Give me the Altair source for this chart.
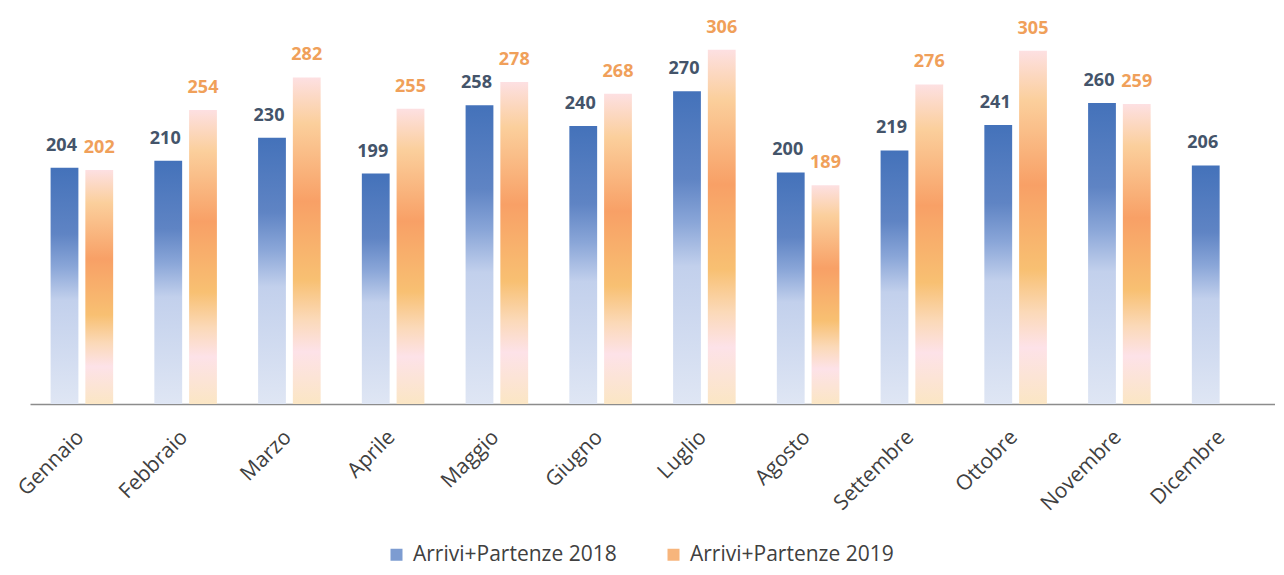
import altair as alt
import pandas as pd

months = ["Gennaio", "Febbraio", "Marzo", "Aprile", "Maggio", "Giugno",
          "Luglio", "Agosto", "Settembre", "Ottobre", "Novembre", "Dicembre"]
values_2018 = [204, 210, 230, 199, 258, 240, 270, 200, 219, 241, 260, 206]
values_2019 = [202, 254, 282, 255, 278, 268, 306, 189, 276, 305, 259]
series_names = ["Arrivi+Partenze 2018", "Arrivi+Partenze 2019"]

rows = []
for m, v in zip(months, values_2018):
    rows.append({"mese": m, "serie": series_names[0], "valore": v})
for m, v in zip(months, values_2019):
    rows.append({"mese": m, "serie": series_names[1], "valore": v})
df = pd.DataFrame(rows)

blue_grad = alt.Gradient(
    gradient="linear", x1=0, y1=0, x2=0, y2=1,
    stops=[
        alt.GradientStop(offset=0.0, color="#4472ba"),
        alt.GradientStop(offset=0.28, color="#5f84c4"),
        alt.GradientStop(offset=0.42, color="#8aa6d8"),
        alt.GradientStop(offset=0.56, color="#c2d0ec"),
        alt.GradientStop(offset=1.0, color="#dfe6f4"),
    ],
)
orange_grad = alt.Gradient(
    gradient="linear", x1=0, y1=0, x2=0, y2=1,
    stops=[
        alt.GradientStop(offset=0.0, color="#fde0e2"),
        alt.GradientStop(offset=0.14, color="#fbcf9c"),
        alt.GradientStop(offset=0.38, color="#f8a066"),
        alt.GradientStop(offset=0.62, color="#f8c072"),
        alt.GradientStop(offset=0.74, color="#fbd9b8"),
        alt.GradientStop(offset=0.84, color="#fde2e8"),
        alt.GradientStop(offset=1.0, color="#fbe6c4"),
    ],
)

x_enc = alt.X(
    "mese:N", sort=months, title=None,
    scale=alt.Scale(paddingInner=0.33, paddingOuter=0.165),
    axis=alt.Axis(labelAngle=-45, labelFontSize=21, labelColor="#404040",
                  labelFont="Open Sans", domainColor="#8c8c8c", domainWidth=1.5,
                  ticks=False, labelPadding=22, labelOffset=-9),
)
xoff_enc = alt.XOffset("serie:N", sort=series_names,
                       scale=alt.Scale(domain=series_names, paddingInner=0.2, paddingOuter=0.1))
y_enc = alt.Y("valore:Q", title=None,
              scale=alt.Scale(domain=[0, 342], nice=False, zero=True),
              axis=None)

base = alt.Chart(df)

legend_layer = base.mark_bar(opacity=0).encode(
    x=x_enc, xOffset=xoff_enc, y=y_enc,
    color=alt.Color("serie:N", sort=series_names,
                    scale=alt.Scale(domain=series_names, range=["#7d9cd1", "#f7b57c"]),
                    legend=alt.Legend(orient="none", legendX=356, legendY=536,
                                      direction="horizontal", title=None, symbolType="square",
                                      symbolSize=144, symbolOpacity=1, labelFontSize=21,
                                      labelFont="Open Sans", labelColor="#404040", padding=0,
                                      labelOffset=6, labelLimit=0, columnPadding=46,
                                      symbolStrokeWidth=0)),
)

bars18 = base.transform_filter(alt.datum.serie == series_names[0]).mark_bar(fill=blue_grad).encode(
    x=x_enc, xOffset=xoff_enc, y=y_enc)
bars19 = base.transform_filter(alt.datum.serie == series_names[1]).mark_bar(fill=orange_grad).encode(
    x=x_enc, xOffset=xoff_enc, y=y_enc)

text18 = base.transform_filter(alt.datum.serie == series_names[0]).mark_text(
    font="Open Sans", fontSize=18, fontWeight="bold", color="#44546a",
    baseline="alphabetic", dy=-17, dx=-3).encode(
    x=x_enc, xOffset=xoff_enc, y=y_enc, text="valore:Q")
text19 = base.transform_filter(alt.datum.serie == series_names[1]).mark_text(
    font="Open Sans", fontSize=18, fontWeight="bold", color="#f0a05a",
    baseline="alphabetic", dy=-17).encode(
    x=x_enc, xOffset=xoff_enc, y=y_enc, text="valore:Q")

chart = alt.layer(legend_layer, bars18, bars19, text18, text19).properties(
    width=1245, height=396,
    padding={"left": 6, "top": 0, "right": 0, "bottom": 4},
).configure_view(stroke=None)

chart.save("out.html", embed_options={"renderer": "svg", "actions": False})
